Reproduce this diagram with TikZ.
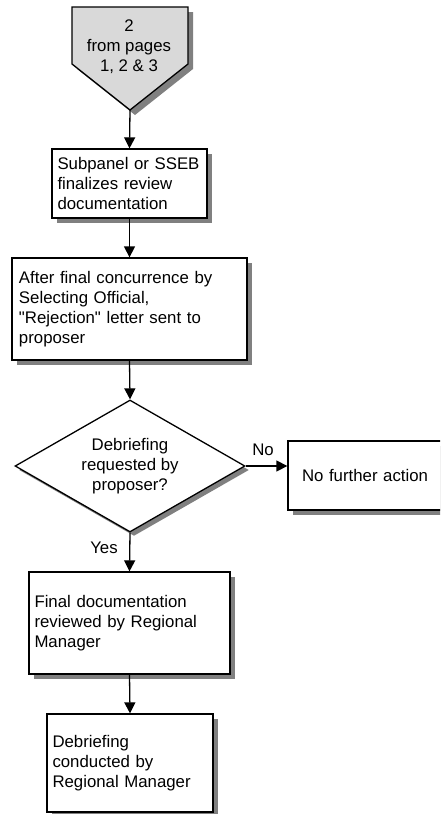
\documentclass[tikz,border=0pt]{standalone}
\usepackage{fontspec}
\setmainfont{Liberation Sans}[Ligatures=TeXOff]
\usetikzlibrary{shapes.geometric,shadows,arrows.meta}
\definecolor{shadowgray}{HTML}{808080}
\definecolor{pentfill}{HTML}{D9D9D9}
\tikzset{
  txt/.style={font=\fontsize{16.8}{20}\selectfont},
  box/.style={txt, draw, fill=white, line width=1.3pt, rectangle, inner xsep=5.5pt, inner ysep=0pt, align=left,
    drop shadow={shadow xshift=5pt, shadow yshift=-5pt, fill=shadowgray, opacity=1}},
  decision/.style={txt, draw, fill=white, line width=1.3pt, diamond, inner sep=0pt, align=center,
    drop shadow={shadow xshift=4pt, shadow yshift=-4pt, fill=shadowgray, opacity=1}},
  arr/.style={line width=1.3pt, -{Triangle[width=11pt,length=11pt]}},
  lbl/.style={txt, inner sep=0pt}
}
\begin{document}
\begin{tikzpicture}[x=1pt,y=-1pt]
\useasboundingbox (0,0) rectangle (440,814);
\clip (0,0) rectangle (440,814);
% off-page connector
\fill[shadowgray] (77,12) -- (193,12) -- (193,69) -- (135,115) -- (77,69) -- cycle;
\draw[line width=1.3pt, fill=pentfill] (72,7) -- (188,7) -- (188,64) -- (130,110) -- (72,64) -- cycle;
\node[lbl, align=center] (conn) at (129,47) {2\\from pages\\1, 2 \& 3};
\coordinate (tip) at (130,110);
% boxes
\node[box, minimum width=155pt, minimum height=69pt, text width=144pt] (b1) at (129.5,183.5)
  {Subpanel or SSEB\\finalizes review\\documentation};
\node[box, minimum width=235pt, minimum height=102pt, text width=221pt, inner xsep=7pt] (b2) at (129.5,309)
  {After final concurrence by\\Selecting Official,\\"Rejection" letter sent to\\proposer};
\node[decision, minimum width=230pt, minimum height=132pt, shape aspect=1.74] (d) at (130,466)
  {Debriefing\\requested by\\proposer?};
\node[box, minimum width=158pt, minimum height=69pt, text width=130pt, inner xsep=14pt] (nfa) at (367,475.5)
  {No further action};
\node[box, minimum width=201pt, minimum height=102pt, text width=190pt] (b4) at (129.5,623)
  {Final documentation\\reviewed by Regional\\Manager};
\node[box, minimum width=166pt, minimum height=98pt, text width=155pt] (b5) at (130,763)
  {Debriefing\\conducted by\\Regional Manager};
% connectors
\draw[arr] (tip) -- (b1.north);
\draw[arr] (b1.south) -- (b2.north);
\draw[arr] (b2.south) -- (d.north);
\draw[arr] (d.east) -- (d.east -| nfa.west);
\draw[arr] (d.south) -- (b4.north);
\draw[arr] (b4.south) -- (b5.north);
% labels
\node[lbl, anchor=base] (no) at (263,455) {No};
\node[lbl, anchor=base] (yes) at (104,553) {Yes};
\end{tikzpicture}
\end{document}
